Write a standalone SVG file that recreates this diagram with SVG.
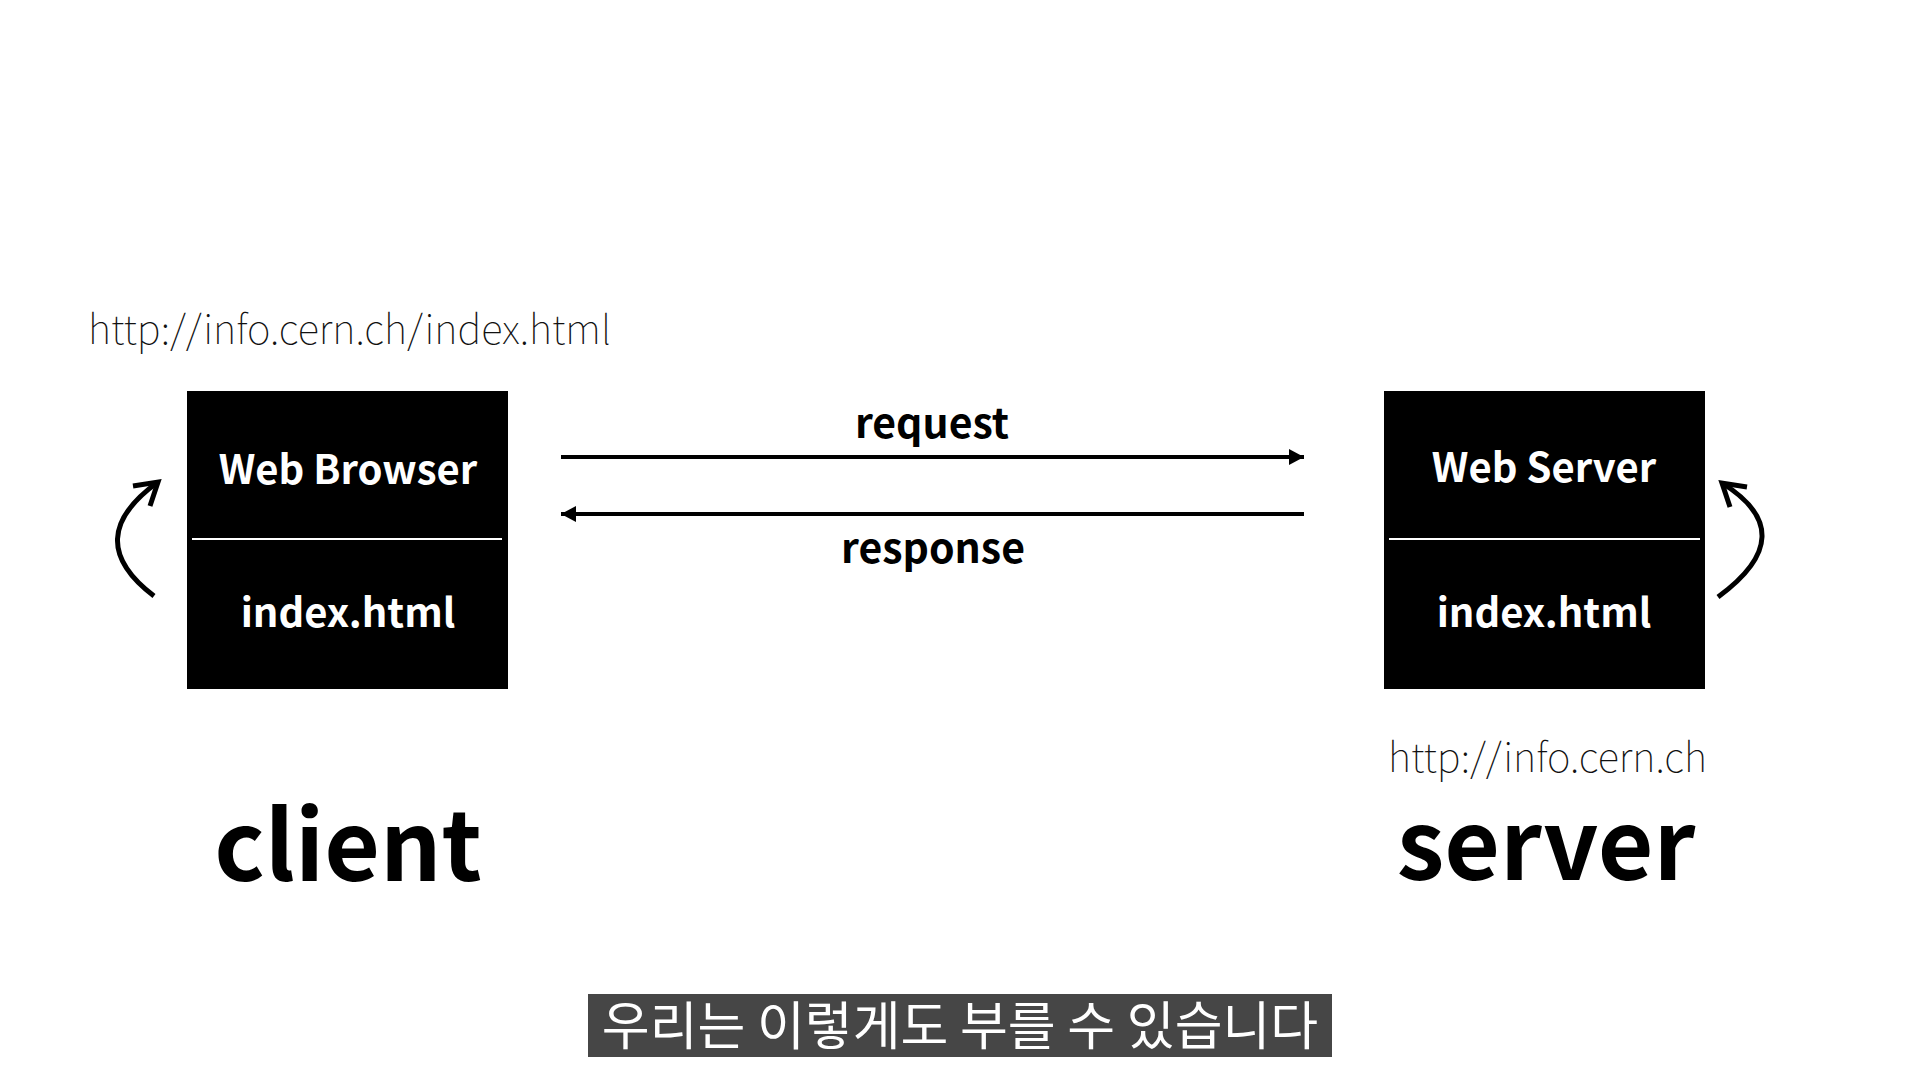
<svg xmlns="http://www.w3.org/2000/svg" width="1920" height="1080" viewBox="0 0 1920 1080">
  <defs>
    <style>
      .box { fill: #000000; }
      .div { stroke: #ffffff; stroke-width: 2; }
      .boxtxt { font-family: "Noto Sans CJK KR", "Noto Sans", sans-serif; font-weight: 700; font-size: 40px; fill: #ffffff; text-anchor: middle; }
      .lbl { font-family: "Noto Sans CJK KR", "Noto Sans", sans-serif; font-weight: 700; font-size: 41px; fill: #000000; text-anchor: middle; }
      .url { font-family: "Noto Sans CJK KR", "Noto Sans", sans-serif; font-weight: 100; font-size: 40px; fill: #111111; }
      .big { font-family: "Noto Sans CJK KR", "Noto Sans", sans-serif; font-weight: 700; font-size: 96px; fill: #000000; text-anchor: middle; }
      .line { stroke: #000000; stroke-width: 4; fill: none; }
      .curve { stroke: #000000; stroke-width: 5; fill: none; stroke-linecap: butt; }
      .sub { font-family: "Noto Sans CJK KR", "Noto Sans", sans-serif; font-weight: 400; font-size: 52px; fill: #ffffff; text-anchor: middle; }
    </style>
    <marker id="tri" markerUnits="userSpaceOnUse" viewBox="0 0 15 16" markerWidth="15" markerHeight="16" refX="15" refY="8" orient="auto">
      <path d="M0,0 L15,8 L0,16 z" fill="#000000"/>
    </marker>
  </defs>
  <rect width="1920" height="1080" fill="#ffffff"/>

  <text class="url" x="88" y="344">http://info.cern.ch/index.html</text>

  <g id="client-node">
    <rect class="box" x="187" y="391" width="321" height="298"/>
    <line class="div" x1="192" y1="539" x2="502" y2="539"/>
    <text class="boxtxt" x="348" y="484">Web Browser</text>
    <text class="boxtxt" x="348" y="627">index.html</text>
  </g>

  <g id="server-node">
    <rect class="box" x="1384" y="391" width="321" height="298"/>
    <line class="div" x1="1389" y1="539" x2="1700" y2="539"/>
    <text class="boxtxt" x="1544" y="482">Web Server</text>
    <text class="boxtxt" x="1544" y="627">index.html</text>
  </g>

  <text class="url" x="1388" y="772">http://info.cern.ch</text>

  <g id="connectors">
    <line class="line" x1="561" y1="457" x2="1304" y2="457" marker-end="url(#tri)"/>
    <line class="line" x1="1304" y1="514" x2="561" y2="514" marker-end="url(#tri)"/>
    <path class="curve" d="M154,596 Q79,539 158,482"/>
    <path class="curve" d="M133,486 L158,482 L150,506"/>
    <path class="curve" d="M1718,597 Q1804,534 1722,483"/>
    <path class="curve" d="M1747,487 L1722,483 L1730,507"/>
  </g>

  <text class="lbl" x="932" y="438">request</text>
  <text class="lbl" x="933" y="563">response</text>

  <text class="big" x="348" y="881">client</text>
  <text class="big" x="1546" y="880">server</text>

  <g id="subtitle">
    <rect x="588" y="994" width="744" height="63" fill="#464646"/>
    <text class="sub" x="960" y="1045">우리는 이렇게도 부를 수 있습니다</text>
  </g>
</svg>
